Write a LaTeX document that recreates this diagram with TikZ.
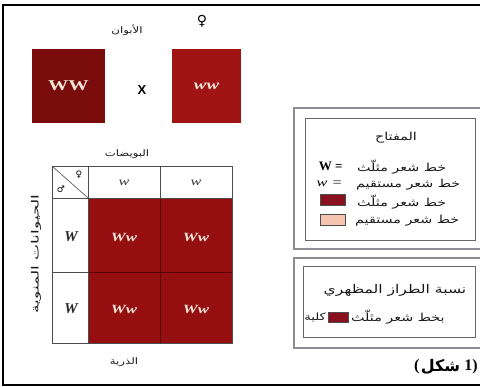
\documentclass[tikz,border=0pt]{standalone}
\usepackage{fontspec}
\setmainfont{Liberation Serif}
\newfontfamily\arabicfont[Script=Arabic,FakeStretch=1.3]{DejaVu Sans}
\newfontfamily\arabicwide[Script=Arabic,FakeStretch=1.7]{DejaVu Sans}
\newfontfamily\arabicbold[Script=Arabic]{DejaVu Sans Bold}
\newfontfamily\symfont{DejaVu Sans}
\newfontfamily\sansbold{Liberation Sans}
\newfontfamily\wideserif[FakeStretch=1.35]{Liberation Serif}
\TeXXeTstate=1
\definecolor{parentdark}{HTML}{7A0C0C}
\definecolor{parentred}{HTML}{A01414}
\definecolor{cellred}{HTML}{960F10}
\definecolor{cellline}{HTML}{5A0606}
\definecolor{swdark}{HTML}{8A1020}
\definecolor{swpink}{HTML}{F6C6B0}
\definecolor{boxgray}{HTML}{8C8C94}
\definecolor{celltext}{HTML}{F3E6D8}
\tikzset{
  ar/.style={font=\arabicfont\fontsize{11}{12}\selectfont, text=black!90, inner sep=0pt},
  arsmall/.style={font=\arabicfont\fontsize{9}{10}\selectfont, text=black!90, inner sep=0pt},
  frame/.style={line width=2.6pt, black},
  grid/.style={draw=black!70, line width=0.8pt},
  hdr/.style={font=\wideserif\fontsize{12}{13}\selectfont\itshape, text=black!80},
  rowhdr/.style={font=\fontsize{15}{16}\selectfont\bfseries\itshape, text=black!85},
  celltxt/.style={font=\wideserif\fontsize{12.5}{13}\selectfont\bfseries\itshape, text=celltext},
  keyouter/.style={draw=boxgray, line width=1.1pt},
  keyinner/.style={draw=black!60, line width=0.9pt},
  swatch/.style={draw=black!70, line width=0.6pt, minimum width=25pt, minimum height=11pt, inner sep=0pt},
  capfont/.style={font=\fontsize{16}{18}\selectfont\bfseries, inner sep=0pt}
}
\begin{document}
\begin{tikzpicture}[x=1pt,y=-1pt]
\useasboundingbox (0,0) rectangle (480,387);
\clip (0,0) rectangle (480,387);

% outer frame (open on the right)
\draw[frame] (480,5) -- (3,5) -- (3,385) -- (480,385);

% parents
\node[arsmall] (parents) at (127,30) {\beginR الأبوان\endR};
\node[font=\symfont\fontsize{14}{15}\selectfont, inner sep=0pt] (fem) at (202,21) {♀};
\node[fill=parentdark, minimum width=73pt, minimum height=74pt, inner sep=0pt] (pWW) at (68.5,86) {};
\node[font=\wideserif\fontsize{15}{16}\selectfont\bfseries, text=celltext] (tWW) at (pWW) {WW};
\node[font=\sansbold\fontsize{13}{14}\selectfont\bfseries] (cross) at (142,90) {X};
\node[fill=parentred, minimum width=69pt, minimum height=74pt, inner sep=0pt] (pww) at (206.5,86) {};
\node[font=\wideserif\fontsize{14}{15}\selectfont\bfseries\itshape, text=celltext] (tww) at (pww) {ww};

% Punnett square
\node[arsmall] (eggs) at (127,154) {\beginR البويضات\endR};
\fill[cellred] (88,198) rectangle (232,343);
\draw[cellline, line width=0.8pt] (160,198) -- (160,343) (88,272) -- (232,272);
\draw[grid] (52,166) rectangle (232,343);
\draw[grid] (88,166) -- (88,343) (160,166) -- (160,198) (52,198) -- (232,198) (52,272) -- (88,272);
\draw[black!70, line width=0.6pt] (52,166) coordinate (cTL) -- (88,198) coordinate (cBR);
\node[font=\symfont\fontsize{9}{10}\selectfont, inner sep=0pt] (cf) at (79,175) {♀};
\node[font=\symfont\fontsize{9}{10}\selectfont, inner sep=0pt] (cm) at (61,189) {♂};

\node[hdr] (e1) at (124,183) {w};
\node[hdr] (e2) at (196,183) {w};
\node[rowhdr] (s1) at (71,237) {W};
\node[rowhdr] (s2) at (71,309) {W};
\node[celltxt] (o11) at (124,238) {Ww};
\node[celltxt] (o12) at (196,238) {Ww};
\node[celltxt] (o21) at (124,310) {Ww};
\node[celltxt] (o22) at (196,310) {Ww};

\node[font=\arabicwide\fontsize{10}{11}\selectfont, text=black!90, inner sep=0pt, rotate=90] (sperm) at (36,254) {\beginR الحيوانات المنوية\endR};
\node[arsmall] (offspring) at (124,362) {\beginR الذرية\endR};

% key box
\draw[keyouter] (294,108) rectangle (490,249);
\draw[keyinner] (305,118) rectangle (475,240);
\node[ar] (keytitle) at (396,138) {\beginR المفتاح\endR};
\node[font=\fontsize{13}{14}\selectfont\bfseries, anchor=east] (kW) at (346,166) {W =};
\node[ar, anchor=west] (kWt) at (357,167) {\beginR خط شعر مثلّث\endR};
\node[font=\wideserif\fontsize{12}{13}\selectfont\itshape, anchor=east] (kw) at (346,184) {w =};
\node[ar, anchor=west] (kwt) at (356,185) {\beginR خط شعر مستقيم\endR};
\node[swatch, fill=swdark] (sw1) at (332.5,200) {};
\node[ar, anchor=west] (sw1t) at (357,202) {\beginR خط شعر مثلّث\endR};
\node[swatch, fill=swpink] (sw2) at (332.5,219.5) {};
\node[ar, anchor=west] (sw2t) at (355,221) {\beginR خط شعر مستقيم\endR};

% phenotype ratio box
\draw[keyouter] (294,258) rectangle (490,348);
\draw[keyinner] (303,266) rectangle (475,337);
\node[font=\arabicfont\fontsize{12}{13}\selectfont, text=black!90, inner sep=0pt] (ratio) at (395,290) {\beginR نسبة الطراز المظهري\endR};
\node[font=\arabicfont\fontsize{10}{11}\selectfont, text=black!90, inner sep=0pt, anchor=east] (whole) at (326,317) {\beginR كلية\endR};
\node[swatch, fill=swdark, minimum width=20pt, minimum height=10pt] (sw3) at (338,317) {};
\node[ar, anchor=west] (ratiot) at (351,317) {\beginR بخط شعر مثلّث\endR};

% caption: three pieces laid out from right to left, one element each
\node[capfont, anchor=east] (capnum) at (478,367) {1)};
\node[capfont, font=\arabicbold\fontsize{16}{18}\selectfont, anchor=east] (capword) at ([xshift=-4pt]capnum.west) {شكل};
\node[capfont, anchor=east] (capopen) at ([xshift=-1pt]capword.west) {(};
\end{tikzpicture}
\end{document}
